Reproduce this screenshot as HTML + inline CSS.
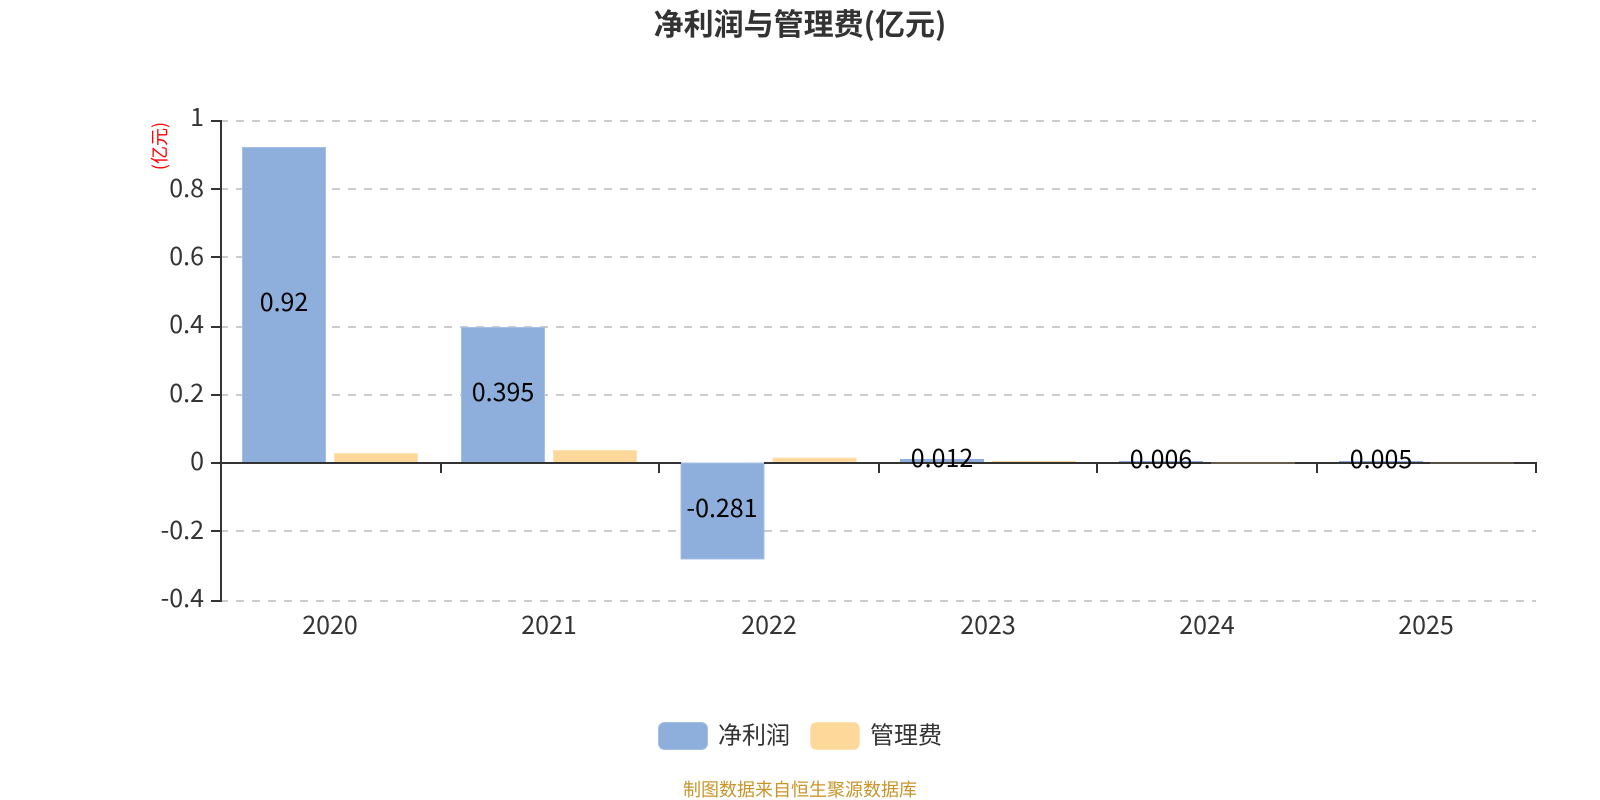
<!DOCTYPE html>
<html><head><meta charset="utf-8"><style>
html,body{margin:0;padding:0;background:#fff}
svg{display:block}
text{font-family:"Liberation Sans","Noto Sans CJK SC",sans-serif}
.n{font-family:"Noto Sans CJK SC","Liberation Sans",sans-serif}
</style></head><body>
<svg width="1600" height="800" viewBox="0 0 1600 800" xmlns="http://www.w3.org/2000/svg">
<rect width="1600" height="800" fill="#fff"/>
<g stroke="#ccc" stroke-width="2" stroke-dasharray="8 8" fill="none">
<line x1="220" x2="1536" y1="121" y2="121"/>
<line x1="220" x2="1536" y1="189" y2="189"/>
<line x1="220" x2="1536" y1="257" y2="257"/>
<line x1="220" x2="1536" y1="327" y2="327"/>
<line x1="220" x2="1536" y1="395" y2="395"/>
<line x1="220" x2="1536" y1="531" y2="531"/>
<line x1="220" x2="1536" y1="601" y2="601"/>
</g>
<g fill="#8eaedb" stroke="#a5c0e4" stroke-width="1">
<rect x="242.5" y="147.5" width="83" height="315"/>
<rect x="461.5" y="327.5" width="83" height="135"/>
<rect x="681" y="463" width="83" height="96"/>
</g>
<g fill="#8eaedb">
<rect x="900" y="459" width="84" height="3"/>
<rect x="1119" y="461" width="84" height="1.5"/>
<rect x="1339" y="461" width="84" height="1.5"/>
</g>
<g fill="#fed89a" stroke="#fee3b6" stroke-width="1">
<rect x="334.5" y="453.5" width="83" height="9"/>
<rect x="553.5" y="450.5" width="83" height="12"/>
<rect x="773" y="458" width="83" height="4"/>
</g>
<g fill="#fed89a">
<rect x="992" y="461" width="84" height="1.5"/>
</g>
<g stroke="#333" stroke-width="2" fill="none">
<line x1="221" x2="221" y1="120" y2="602"/>
<line x1="220" x2="681" y1="463" y2="463"/>
<line x1="764" x2="1537" y1="463" y2="463"/>
<line x1="211" x2="221" y1="121" y2="121"/>
<line x1="211" x2="221" y1="189" y2="189"/>
<line x1="211" x2="221" y1="257" y2="257"/>
<line x1="211" x2="221" y1="327" y2="327"/>
<line x1="211" x2="221" y1="395" y2="395"/>
<line x1="211" x2="221" y1="463" y2="463"/>
<line x1="211" x2="221" y1="531" y2="531"/>
<line x1="211" x2="221" y1="601" y2="601"/>
<line x1="441" x2="441" y1="463" y2="473"/>
<line x1="659" x2="659" y1="463" y2="473"/>
<line x1="879" x2="879" y1="463" y2="473"/>
<line x1="1097" x2="1097" y1="463" y2="473"/>
<line x1="1317" x2="1317" y1="463" y2="473"/>
<line x1="1536" x2="1536" y1="463" y2="473"/>
</g>
<g>
<rect x="1211" y="462.5" width="84" height="1" fill="#fed89a" fill-opacity=".5"/>
<rect x="1430" y="462.5" width="84" height="1" fill="#fed89a" fill-opacity=".35"/>
</g>
<g font-size="25" fill="#333" text-anchor="end" dominant-baseline="central">
<text class="n" x="204" y="116">1</text>
<text class="n" x="204" y="187">0.8</text>
<text class="n" x="204" y="255">0.6</text>
<text class="n" x="204" y="323">0.4</text>
<text class="n" x="204" y="392">0.2</text>
<text class="n" x="204" y="460">0</text>
<text class="n" x="204" y="529">-0.2</text>
<text class="n" x="204" y="597">-0.4</text>
</g>
<g font-size="25" fill="#333" text-anchor="middle" dominant-baseline="central">
<text class="n" x="330" y="624">2020</text>
<text class="n" x="549" y="624">2021</text>
<text class="n" x="769" y="624">2022</text>
<text class="n" x="988" y="624">2023</text>
<text class="n" x="1207" y="624">2024</text>
<text class="n" x="1426" y="624">2025</text>
</g>
<g font-size="25" fill="#000" text-anchor="middle" dominant-baseline="central">
<text class="n" x="284" y="301">0.92</text>
<text class="n" x="503" y="391">0.395</text>
<text class="n" x="722" y="507">-0.281</text>
<text class="n" x="942" y="457">0.012</text>
<text class="n" x="1161" y="458">0.006</text>
<text class="n" x="1381" y="458">0.005</text>
</g>
<text class="n" x="800" y="22" font-size="30" font-weight="700" fill="#333" text-anchor="middle" dominant-baseline="central">净利润与管理费(亿元)</text>
<text class="n" transform="translate(159,146) rotate(-90)" font-size="18" fill="#f00" text-anchor="middle" dominant-baseline="central">(亿元)</text>
<rect x="658.5" y="722.5" width="49" height="27" rx="6" fill="#8eaedb" stroke="#a5c0e4"/>
<text class="n" x="718" y="733" font-size="24" fill="#333" dominant-baseline="central">净利润</text>
<rect x="810.5" y="722.5" width="49" height="27" rx="6" fill="#fed89a" stroke="#fee3b6"/>
<text class="n" x="870" y="733" font-size="24" fill="#333" dominant-baseline="central">管理费</text>
<text class="n" x="800" y="789" font-size="18" fill="#c8952a" text-anchor="middle" dominant-baseline="central">制图数据来自恒生聚源数据库</text>
</svg>
</body></html>
